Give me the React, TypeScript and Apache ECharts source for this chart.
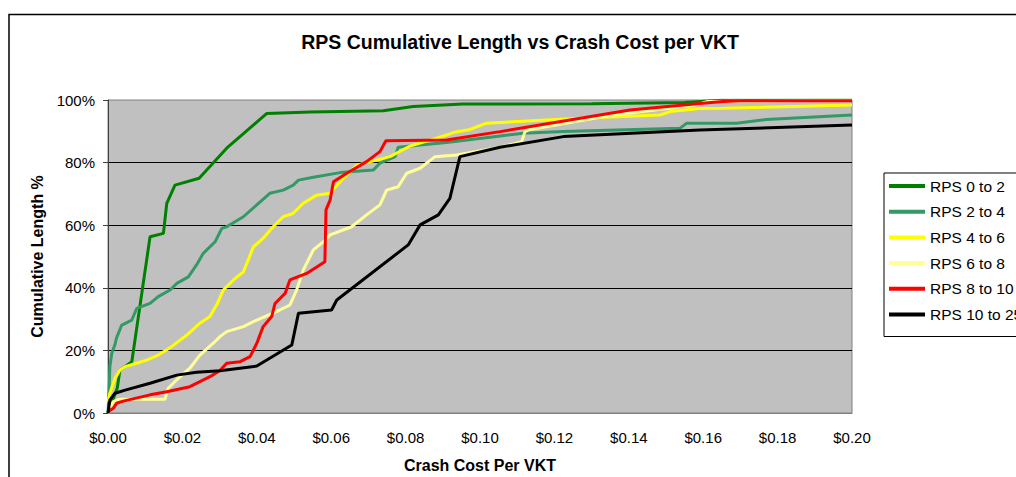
import React, { useEffect, useRef } from 'react';
import * as echarts from 'echarts';

const chartTitle = 'RPS Cumulative Length vs Crash Cost per VKT';
const xAxisTitle = 'Crash Cost Per VKT';
const yAxisTitle = 'Cumulative Length %';

const seriesNames = ['RPS 0 to 2', 'RPS 2 to 4', 'RPS 4 to 6', 'RPS 6 to 8', 'RPS 8 to 10', 'RPS 10 to 25'];
const seriesColors = ['#008000', '#339966', '#FFFF00', '#FFFF99', '#FF0000', '#000000'];

const xMin = 0;
const xMax = 0.2;
const xStep = 0.02;
const yMin = 0;
const yMax = 100;
const yStep = 20;

// [crash cost per VKT ($), cumulative length %]
const rps0to2 = [
  [0, 0], [0.0025, 8], [0.0032, 13.7], [0.0064, 16.4], [0.0113, 56.3], [0.0149, 57.4],
  [0.0158, 67], [0.018, 72.8], [0.0245, 75], [0.0319, 84.6], [0.0427, 95.7], [0.0543, 96.2],
  [0.074, 96.6], [0.082, 97.9], [0.0954, 98.7], [0.13, 98.8], [0.155, 99.2], [0.165, 99.9], [0.2, 100],
];
const rps2to4 = [
  [0, 0], [0.0003, 7.3], [0.0005, 14.8], [0.001, 19], [0.0019, 22], [0.0023, 24], [0.0037, 28.1],
  [0.0064, 29.7], [0.0077, 33.4], [0.0113, 35], [0.0135, 37.2], [0.0167, 39.3], [0.0185, 41.4],
  [0.0216, 43.5], [0.0238, 47.3], [0.0256, 51], [0.0288, 54.7], [0.0306, 59], [0.0319, 59.5],
  [0.0364, 62.7], [0.04, 66.5], [0.0435, 70.2], [0.0471, 71.2], [0.0498, 72.8], [0.0512, 74.4],
  [0.0552, 75.3], [0.0624, 76.8], [0.0713, 77.6], [0.0731, 79.8], [0.0772, 81.9], [0.078, 84.9],
  [0.0839, 85.6], [0.091, 86.4], [0.1054, 88.5], [0.1116, 89.4], [0.1223, 89.9], [0.1538, 91],
  [0.1556, 92.6], [0.169, 92.6], [0.177, 93.8], [0.2, 95.2],
];
const rps4to6 = [
  [0, 3.6], [0.0005, 6.3], [0.0019, 11.1], [0.0032, 13.7], [0.0046, 14.8], [0.0077, 15.9],
  [0.0104, 16.9], [0.0135, 18.5], [0.0171, 21.2], [0.0212, 24.9], [0.0247, 28.7], [0.0274, 30.8],
  [0.0294, 35], [0.031, 39.3], [0.0337, 42.5], [0.0364, 45.1], [0.0391, 53.1], [0.0417, 55.8],
  [0.0444, 59.5], [0.0471, 62.7], [0.0498, 63.8], [0.0525, 67], [0.0561, 69.6], [0.0597, 70.2],
  [0.0624, 73.9], [0.0669, 79.2], [0.0722, 80.8], [0.0758, 81.9], [0.0812, 85.3], [0.0866, 87.2],
  [0.091, 88.8], [0.0928, 89.6], [0.0973, 90.6], [0.1018, 92.6], [0.1269, 94.2], [0.1484, 95.2],
  [0.1511, 96.3], [0.1591, 97.3], [0.1653, 97.4], [0.1895, 98.1], [0.2, 98.4],
];
const rps6to8 = [
  [0, 0], [0.0014, 3.6], [0.0032, 4.4], [0.0153, 4.4], [0.0162, 7.9], [0.0189, 11.1],
  [0.022, 14.3], [0.0247, 18.5], [0.0283, 22.3], [0.0301, 24.4], [0.0319, 26], [0.0364, 27.6],
  [0.04, 29.7], [0.0453, 32.4], [0.0489, 34.5], [0.0507, 39.3], [0.0525, 45.7], [0.0552, 52.1],
  [0.0579, 54.7], [0.0597, 56.9], [0.0655, 59.5], [0.0695, 63.3], [0.0731, 66.5], [0.0749, 71.2],
  [0.078, 72.3], [0.0803, 76.6], [0.0839, 78.2], [0.0879, 81.9], [0.0937, 82.4], [0.1054, 84.9],
  [0.1112, 86.7], [0.1121, 89.9], [0.1134, 90.6], [0.1358, 95.2], [0.1573, 98.2], [0.161, 99.5],
  [0.2, 100],
];
const rps8to10 = [
  [0, 0.4], [0.0014, 1.5], [0.0023, 3.1], [0.0041, 3.8], [0.0113, 5.8], [0.0158, 6.8],
  [0.022, 8.4], [0.0274, 11.6], [0.0301, 13.6], [0.0319, 15.9], [0.0355, 16.4], [0.0382, 18],
  [0.04, 22.3], [0.0417, 27.6], [0.044, 30.8], [0.0449, 35], [0.0476, 38.2], [0.0489, 42.5],
  [0.0534, 44.6], [0.0583, 48.3], [0.0586, 64.9], [0.0597, 68], [0.0606, 73.9], [0.0642, 76.6],
  [0.0695, 80.3], [0.0731, 83.5], [0.0747, 87], [0.091, 87.2], [0.1054, 89.9], [0.1403, 96.8],
  [0.1591, 98.9], [0.1653, 99.5], [0.1717, 99.8], [0.2, 99.8],
];
const rps10to25 = [
  [0, 0], [0.0005, 4.2], [0.0019, 6.3], [0.0046, 7.3], [0.0113, 9.5], [0.0185, 12.1],
  [0.0238, 13], [0.0301, 13.5], [0.04, 15], [0.0494, 21.7], [0.0512, 31.9], [0.0601, 32.9],
  [0.0615, 36.1], [0.0807, 53.7], [0.0839, 60.1], [0.0888, 63.3], [0.0919, 68.6], [0.0946, 81.9],
  [0.1054, 84.9], [0.1224, 88.3], [0.1591, 90.4], [0.2, 92],
];

const seriesData = [rps0to2, rps2to4, rps4to6, rps6to8, rps8to10, rps10to25];

const FONT = 'Arial, "Liberation Sans", Helvetica, sans-serif';

export default function App() {
  const ref = useRef<HTMLDivElement>(null);

  useEffect(() => {
    if (!ref.current) return;
    const chart = echarts.init(ref.current, null, { renderer: 'svg' });
    chart.setOption({
      animation: false,
      backgroundColor: '#FFFFFF',
      textStyle: { fontFamily: FONT },
      title: {
        text: chartTitle,
        left: 515,
        top: 27,
        textAlign: 'center',
        textStyle: { fontFamily: FONT, fontSize: 19.5, fontWeight: 'bold', color: '#000' },
      },
      graphic: [
        {
          type: 'rect',
          shape: { x: 9, y: 14.5, width: 1100, height: 500 },
          style: { fill: 'none', stroke: '#000', lineWidth: 1.5 },
          silent: true,
          z: -10,
        },
      ],
      legend: {
        orient: 'vertical',
        left: 884,
        top: 173,
        padding: [5, 5, 14, 5],
        itemWidth: 36,
        itemHeight: 4,
        itemGap: 9.7,
        backgroundColor: '#FFFFFF',
        borderColor: '#000',
        borderWidth: 1,
        textStyle: { fontFamily: FONT, fontSize: 15.5, color: '#000', lineHeight: 16 },
        data: seriesNames.map((n, i) => ({ name: n, icon: 'rect', itemStyle: { color: seriesColors[i] } })),
      },
      grid: {
        left: 108,
        right: 164,
        top: 100,
        bottom: 64,
        show: true,
        backgroundColor: '#C0C0C0',
        borderColor: '#808080',
        borderWidth: 1,
        containLabel: false,
        outerBoundsMode: 'none',
      },
      xAxis: {
        type: 'value',
        min: xMin,
        max: xMax,
        interval: xStep,
        name: xAxisTitle,
        nameLocation: 'middle',
        nameGap: 44,
        nameTextStyle: { fontFamily: FONT, fontSize: 16, fontWeight: 'bold', color: '#000' },
        axisLine: { show: true, lineStyle: { color: '#808080', width: 1 } },
        axisTick: { show: false },
        axisLabel: {
          margin: 17,
          fontFamily: FONT,
          fontSize: 15,
          color: '#000',
          formatter: (v: number) => '$' + v.toFixed(2),
        },
        splitLine: { show: false },
      },
      yAxis: {
        type: 'value',
        min: yMin,
        max: yMax,
        interval: yStep,
        name: yAxisTitle,
        nameLocation: 'middle',
        nameGap: 56,
        nameTextStyle: { fontFamily: FONT, fontSize: 16, fontWeight: 'bold', color: '#000' },
        axisLine: { show: true, lineStyle: { color: '#404040', width: 1 } },
        axisTick: { show: true, inside: false, length: 5, lineStyle: { color: '#404040' } },
        axisLabel: {
          margin: 13,
          fontFamily: FONT,
          fontSize: 15,
          color: '#000',
          formatter: '{value}%',
        },
        splitLine: { show: true, showMinLine: false, showMaxLine: false, lineStyle: { color: '#000', width: 1 } },
      },
      series: seriesNames.map((n, i) => ({
        name: n,
        type: 'line',
        data: seriesData[i],
        showSymbol: false,
        symbol: 'none',
        lineStyle: { color: seriesColors[i], width: 3 },
        itemStyle: { color: seriesColors[i] },
        z: 2 + i,
      })),
    });
    return () => chart.dispose();
  }, []);

  return (
    <div
      ref={ref}
      style={{ position: 'fixed', left: 0, top: 0, width: 1016, height: 477, overflow: 'hidden' }}
    />
  );
}
